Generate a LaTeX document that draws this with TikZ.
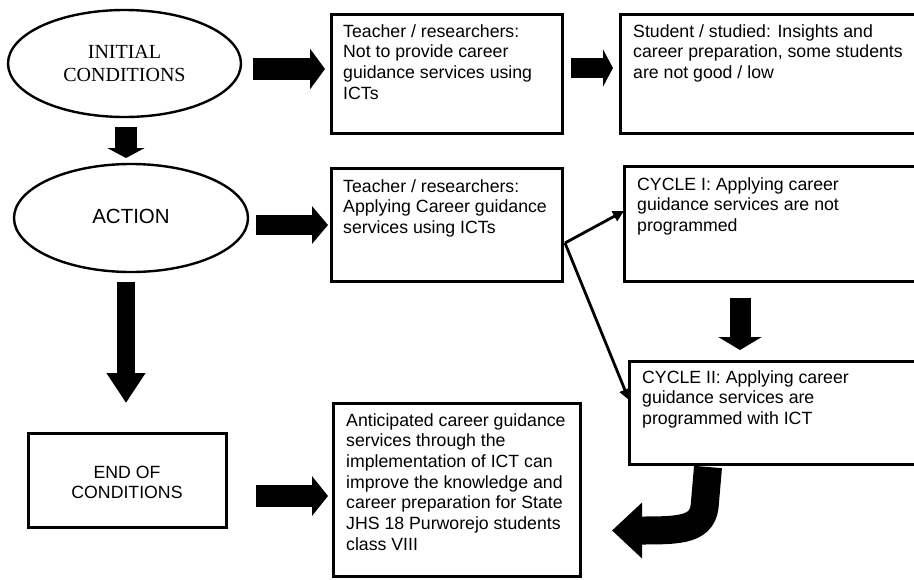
\documentclass[tikz,border=0pt]{standalone}
\usepackage{fontspec}
\setmainfont{Liberation Sans}
\newfontfamily\serifx{Liberation Serif}
\usetikzlibrary{arrows.meta,calc,shapes.geometric}
\begin{document}
\begin{tikzpicture}[x=1pt,y=-1pt,
  box/.style={draw, line width=3pt, rectangle, anchor=north west, inner sep=0pt, outer sep=0pt},
  txt/.style={anchor=north west, inner sep=0pt, align=left, font=\fontsize{17.7}{20.7}\selectfont},
  oval/.style={draw, ellipse, line width=2.4pt, inner sep=0pt, outer sep=0pt},
  fatarrow/.style n args={3}{line width=#1, -{Triangle[width=#2,length=#3]}},
  thinarrow/.style={line width=2.8pt, -{Triangle[width=11pt,length=11pt]}}
]
\useasboundingbox (0,0) rectangle (914,579);

% ellipses
\node[oval, minimum width=233, minimum height=107, align=center,
      font=\serifx\fontsize{20}{23}\selectfont] (init) at (124.5,63.5) {INITIAL\\CONDITIONS};
\node[oval, minimum width=234, minimum height=108,
      font=\fontsize{20.5}{23}\selectfont] (action) at (131,218) {\raisebox{4pt}{ACTION}};

% boxes
\node[box, minimum width=231, minimum height=119] (teach1) at (331,14) {};
\node[box, minimum width=300, minimum height=119] (student) at (620,14) {};
\node[box, minimum width=231, minimum height=113] (teach2) at (331,168) {};
\node[box, minimum width=300, minimum height=115] (cyc1) at (624,166) {};
\node[box, minimum width=300, minimum height=103] (cyc2) at (629,361) {};
\node[box, minimum width=247, minimum height=173] (antic) at (333,403) {};
\node[box, minimum width=198, minimum height=94, anchor=center] (endc) at (127,480) {};
\node[align=center, inner sep=0pt, font=\fontsize{17.7}{20}\selectfont] (tend) at (127,482) {END OF\\CONDITIONS};

% box texts
\node[txt] (t1) at (343,24) {Teacher / researchers:\\Not to provide career\\guidance services using\\ICTs};
\node[txt] (ts) at (633,24) {Student / studied: Insights and\\career preparation, some students\\are not good / low};
\node[txt] (t2) at (343,179) {Teacher / researchers:\\Applying Career guidance\\services using ICTs};
\node[txt] (tc1) at (637,177) {CYCLE I: Applying career\\guidance services are not\\programmed};
\node[txt] (tc2) at (642,370) {CYCLE II: Applying career\\guidance services are\\programmed with ICT};
\node[txt] (ta) at (346,413) {Anticipated career guidance\\services through the\\implementation of ICT can\\improve the knowledge and\\career preparation for State\\JHS 18 Purworejo students\\class VIII};

% fat arrows
\draw[fatarrow={22pt}{40pt}{15pt}] ($(init.east)+(12,5.5)$) -- ($(teach1.west)+(-6,-4.5)$);
\draw[fatarrow={20pt}{37pt}{10pt}] ($(teach1.east)+(9,-5.5)$) -- ($(student.west)+(-7,-5.5)$);
\draw[fatarrow={22pt}{37pt}{10pt}] ($(init.south)+(1.5,10)$) -- ($(action.north)+(-5,-6)$);
\draw[fatarrow={20pt}{37pt}{16pt}] ($(action.east)+(8,7)$) -- ($(teach2.west)+(-3,0.5)$);
\draw[fatarrow={18pt}{37pt}{30pt}] ($(action.south)+(-5,10)$) -- ($(endc.north)+(-1,-30)$);
\draw[fatarrow={22pt}{39pt}{16pt}] ($(endc.east)+(30,16)$) -- ($(antic.west)+(-5,6.5)$);
\draw[fatarrow={21pt}{43pt}{13pt}] ($(cyc1.south)+(-34,17)$) -- ($(cyc2.north)+(-39,-11)$);
\draw[fatarrow={28pt}{54pt}{30pt}] ($(cyc2.south)+(-71,3)$) -- ++(-3,35)
   .. controls +(-1,28) and +(70,0) .. ($(antic.east)+(32,41)$);

% thin split arrows
\coordinate (split) at ($(teach2.east)+(3,18.5)$);
\draw[thinarrow] (split) -- ($(cyc1.west)+(0,-12.5)$);
\draw[thinarrow] (split) -- ($(cyc2.west)+(0,-12.5)$);
\end{tikzpicture}
\end{document}
